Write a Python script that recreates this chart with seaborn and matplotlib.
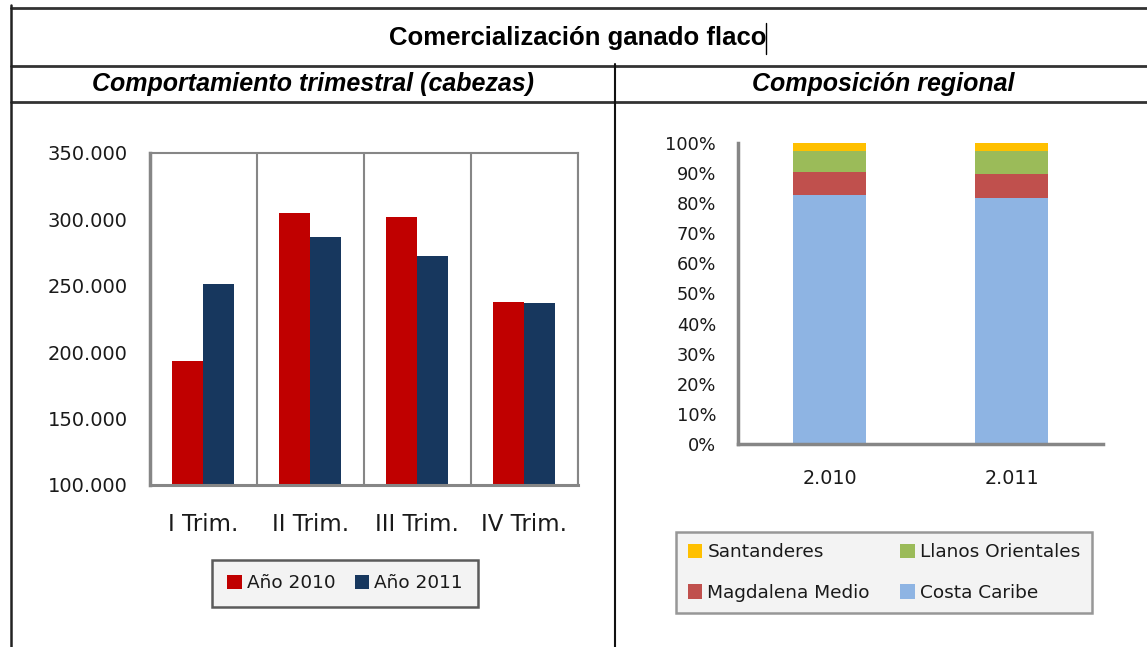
import matplotlib
matplotlib.use('Agg')
import matplotlib.pyplot as plt
from matplotlib.lines import Line2D
from matplotlib.patches import Patch
from matplotlib.ticker import FuncFormatter
import numpy as np
import pandas as pd
import seaborn as sns

# ---------------- data ----------------
quarters = ['I Trim.', 'II Trim.', 'III Trim.', 'IV Trim.']
series_names = ['Año 2010', 'Año 2011']
heads_2010 = [193500, 304900, 301400, 237900]
heads_2011 = [251200, 286300, 272500, 237200]

years = ['2.010', '2.011']
regions = ['Costa Caribe', 'Magdalena Medio', 'Llanos Orientales', 'Santanderes']
costa_caribe = [82.6, 81.5]
magdalena_medio = [7.8, 8.0]
llanos_orientales = [6.8, 7.6]
santanderes = [2.8, 2.9]

bar_colors = ['#C00000', '#17375E']
region_colors = ['#8EB4E3', '#C0504D', '#9BBB59', '#FFC000']
axis_grey = '#868686'
text_col = '#1a1a1a'

sns.set_style('white')
plt.rcParams['font.family'] = ['DejaVu Sans']

W, H = 1147, 647
fig = plt.figure(figsize=(W / 100, H / 100), dpi=100)


def fx(px):
    return px / W


def fy(py):
    return 1 - py / H


# ---------------- frame lines ----------------
for y in [7.5, 65.5, 101.5]:
    fig.add_artist(Line2D([fx(11), 1], [fy(y), fy(y)], color='#333333', lw=2))
fig.add_artist(Line2D([fx(11), fx(11)], [fy(5), 0], color='#222222', lw=1.8))
fig.add_artist(Line2D([fx(614.5), fx(614.5)], [fy(64), 0], color='#111111', lw=1.5))

head_font = ['Liberation Sans', 'DejaVu Sans']
fig.text(fx(578), fy(38), 'Comercialización ganado flaco', ha='center', va='center',
         fontsize=18.5, fontweight='bold', family=head_font, color='black')
fig.add_artist(Line2D([fx(766), fx(766)], [fy(23), fy(54)], color='black', lw=1))
fig.text(fx(313), fy(84), 'Comportamiento trimestral (cabezas)', ha='center', va='center',
         fontsize=18, fontweight='bold', style='italic', family=head_font, color='black')
fig.text(fx(883), fy(84), 'Composición regional', ha='center', va='center',
         fontsize=18, fontweight='bold', style='italic', family=head_font, color='black')

# ---------------- left chart ----------------
ax1 = fig.add_axes([fx(150), fy(485), fx(577.7 - 150), (485 - 152.7) / H])
df = pd.DataFrame({
    'trim': quarters * 2,
    'serie': [series_names[0]] * 4 + [series_names[1]] * 4,
    'cabezas': heads_2010 + heads_2011,
})
sns.barplot(data=df, x='trim', y='cabezas', hue='serie', palette=bar_colors,
            width=0.58, saturation=1, errorbar=None, linewidth=0, legend=False, ax=ax1)
ax1.set_ylim(100000, 350000)
ax1.set_xlim(-0.5, 3.5)
ax1.set_yticks(np.arange(100000, 350001, 50000))
ax1.yaxis.set_major_formatter(FuncFormatter(lambda v, p: f'{int(v):,}'.replace(',', '.')))
ax1.set_xticks(range(4))
ax1.set_xticklabels(quarters, fontsize=16.5, color=text_col)
ax1.set_xticks([-0.5, 0.5, 1.5, 2.5, 3.5], minor=True)
ax1.tick_params(axis='x', which='major', length=0, pad=20)
ax1.tick_params(axis='x', which='minor', length=7, width=1.5, color=axis_grey, direction='out')
ax1.tick_params(axis='y', length=4, width=1.5, color=axis_grey, direction='out',
                labelsize=14, labelcolor=text_col, pad=12)
ax1.grid(axis='x', which='minor', color=axis_grey, lw=1.5)
ax1.set_axisbelow(True)
ax1.set_xlabel('')
ax1.set_ylabel('')
for side, lw in [('left', 2.5), ('bottom', 2.2), ('top', 1.5), ('right', 1.5)]:
    ax1.spines[side].set_visible(True)
    ax1.spines[side].set_color(axis_grey)
    ax1.spines[side].set_linewidth(lw)

h1 = [Patch(facecolor=c, edgecolor='none') for c in bar_colors]
leg1 = ax1.legend(h1, series_names, ncol=2, loc='center',
                  bbox_to_anchor=(fx(345), fy(583.5)),
                  bbox_transform=fig.transFigure, fontsize=13.3,
                  frameon=True, fancybox=False, handlelength=0.8, handleheight=0.8,
                  handletextpad=0.27, columnspacing=1.03, borderpad=0.8, borderaxespad=0)
leg1.get_frame().set_facecolor('#F0F0F0')
leg1.get_frame().set_edgecolor('#333333')
leg1.get_frame().set_linewidth(1.8)
for t in leg1.get_texts():
    t.set_color(text_col)

# ---------------- right chart ----------------
ax2 = fig.add_axes([fx(738.3), fy(444.3), fx(1103 - 738.3), (444.3 - 142.7) / H])
layers = [costa_caribe, magdalena_medio, llanos_orientales, santanderes]
cum = np.cumsum(np.array(layers), axis=0)
# draw from the top layer down so each lower layer covers the one above
for i in range(len(layers) - 1, -1, -1):
    sns.barplot(x=years, y=cum[i], color=region_colors[i], width=0.4, saturation=1,
                errorbar=None, linewidth=0, ax=ax2)
ax2.set_ylim(0, 100)
ax2.set_xlim(-0.5, 1.5)
ax2.set_yticks(np.arange(0, 101, 10))
ax2.yaxis.set_major_formatter(FuncFormatter(lambda v, p: f'{int(v)}%'))
ax2.set_xticks(range(2))
ax2.set_xticklabels(years, fontsize=13.8, color=text_col)
ax2.set_xticks([-0.5, 0.5, 1.5], minor=True)
ax2.tick_params(axis='x', which='major', length=0, pad=18)
ax2.tick_params(axis='x', which='minor', length=7, width=1.5, color=axis_grey, direction='out')
ax2.tick_params(axis='y', length=5, width=1.5, color=axis_grey, direction='out',
                labelsize=12.8, labelcolor=text_col, pad=11)
ax2.set_xlabel('')
ax2.set_ylabel('')
for side in ['top', 'right']:
    ax2.spines[side].set_visible(False)
for side in ['left', 'bottom']:
    ax2.spines[side].set_visible(True)
    ax2.spines[side].set_color(axis_grey)
    ax2.spines[side].set_linewidth(2.5)

order = [3, 1, 2, 0]  # Santanderes, Magdalena | Llanos, Costa (column-first fill)
h2 = [Patch(facecolor=region_colors[i], edgecolor='none') for i in order]
leg2 = ax2.legend(h2, [regions[i] for i in order], ncol=2, loc='center',
                  bbox_to_anchor=(fx(884), fy(572.5)),
                  bbox_transform=fig.transFigure, fontsize=13.3,
                  frameon=True, fancybox=False, handlelength=0.8, handleheight=0.8,
                  handletextpad=0.27, columnspacing=1.65, labelspacing=1.24,
                  borderpad=0.62, borderaxespad=0)
leg2.get_frame().set_facecolor('#F0F0F0')
leg2.get_frame().set_edgecolor('#7F7F7F')
leg2.get_frame().set_linewidth(1.8)
for t in leg2.get_texts():
    t.set_color(text_col)

fig.savefig('out.png', dpi=100)
